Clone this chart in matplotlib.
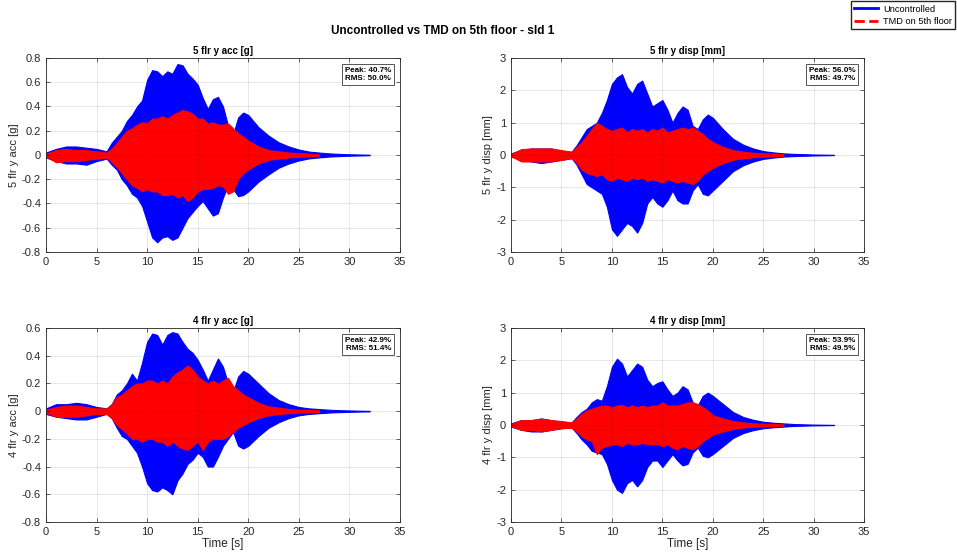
import numpy as np
import matplotlib.pyplot as plt
from matplotlib.lines import Line2D

t_unc = [0, 1, 2, 3, 4, 5, 6, 6.5, 7, 7.5, 8, 8.5, 9, 9.5, 10, 10.5, 11, 11.5, 12,
         12.5, 13, 13.5, 14, 14.5, 15, 15.5, 16, 16.5, 17, 17.5, 18, 18.5, 19, 19.5,
         20, 21, 22, 23, 24, 25, 26, 27, 28, 29, 30, 31, 32]
t_tmd = t_unc[:42]  # TMD response ends at ~27 s

# 5th floor acceleration [g]
acc5_unc_hi = [0.02, 0.05, 0.07, 0.07, 0.06, 0.05, 0.03, 0.1, 0.15, 0.2, 0.28, 0.33, 0.4, 0.45,
               0.62, 0.70, 0.69, 0.65, 0.69, 0.67, 0.75, 0.74, 0.67, 0.63, 0.58, 0.47, 0.38,
               0.46, 0.48, 0.40, 0.24, 0.17, 0.31, 0.35, 0.33, 0.23, 0.16, 0.105, 0.07, 0.045,
               0.028, 0.02, 0.013, 0.009, 0.006, 0.004, 0.002]
acc5_unc_lo = [-0.02, -0.05, -0.07, -0.07, -0.08, -0.05, -0.03, -0.08, -0.12, -0.2, -0.25,
               -0.32, -0.35, -0.42, -0.55, -0.68, -0.72, -0.68, -0.67, -0.70, -0.68, -0.6,
               -0.52, -0.47, -0.42, -0.38, -0.44, -0.5, -0.48, -0.35, -0.25, -0.28, -0.34,
               -0.33, -0.3, -0.22, -0.16, -0.105, -0.07, -0.045, -0.028, -0.02, -0.013,
               -0.009, -0.006, -0.004, -0.002]
acc5_tmd_hi = [0.01, 0.04, 0.05, 0.04, 0.04, 0.03, 0.02, 0.05, 0.1, 0.15, 0.2, 0.22, 0.25, 0.27,
               0.26, 0.3, 0.3, 0.32, 0.3, 0.33, 0.35, 0.37, 0.36, 0.34, 0.3, 0.3, 0.26, 0.27,
               0.25, 0.25, 0.26, 0.22, 0.18, 0.15, 0.12, 0.07, 0.04, 0.03, 0.02, 0.015, 0.01,
               0.005]
acc5_tmd_lo = [-0.01, -0.06, -0.05, -0.05, -0.04, -0.03, -0.02, -0.06, -0.1, -0.15, -0.2,
               -0.25, -0.27, -0.3, -0.28, -0.3, -0.3, -0.33, -0.33, -0.32, -0.35, -0.33,
               -0.38, -0.35, -0.3, -0.28, -0.28, -0.27, -0.25, -0.26, -0.32, -0.3, -0.2,
               -0.15, -0.12, -0.07, -0.04, -0.03, -0.02, -0.015, -0.01, -0.005]

# 5th floor displacement [mm]
disp5_unc_hi = [0.05, 0.15, 0.2, 0.2, 0.2, 0.12, 0.1, 0.3, 0.55, 0.8, 0.9, 1.0, 1.3, 1.7, 2.2,
                2.4, 2.5, 2.1, 1.9, 2.2, 2.3, 1.9, 1.5, 1.6, 1.7, 1.4, 1.0, 1.3, 1.5, 1.4, 0.9,
                0.8, 1.1, 1.25, 1.15, 0.8, 0.5, 0.32, 0.2, 0.12, 0.08, 0.05, 0.035, 0.025,
                0.015, 0.01, 0.005]
disp5_unc_lo = [-0.05, -0.15, -0.2, -0.25, -0.2, -0.15, -0.1, -0.3, -0.6, -0.9, -1.0, -1.1,
                -1.2, -1.6, -2.3, -2.5, -2.3, -2.1, -2.2, -2.4, -2.1, -1.5, -1.3, -1.5, -1.6,
                -1.4, -1.1, -1.4, -1.5, -1.5, -1.1, -0.9, -1.2, -1.25, -1.1, -0.8, -0.5,
                -0.32, -0.2, -0.12, -0.08, -0.05, -0.035, -0.025, -0.015, -0.01, -0.005]
disp5_tmd_hi = [0.03, 0.18, 0.2, 0.2, 0.2, 0.15, 0.1, 0.25, 0.4, 0.6, 0.8, 1.0, 0.9, 0.8, 0.75,
                0.8, 0.85, 0.7, 0.8, 0.75, 0.8, 0.7, 0.8, 0.75, 0.85, 0.7, 0.75, 0.8, 0.85,
                0.8, 0.85, 0.75, 0.65, 0.5, 0.4, 0.25, 0.15, 0.1, 0.07, 0.05, 0.04, 0.02]
disp5_tmd_lo = [-0.03, -0.2, -0.2, -0.2, -0.2, -0.15, -0.1, -0.25, -0.45, -0.55, -0.6, -0.65,
                -0.6, -0.75, -0.8, -0.7, -0.75, -0.8, -0.7, -0.75, -0.7, -0.8, -0.75, -0.8,
                -0.85, -0.75, -0.8, -0.85, -0.8, -0.85, -0.9, -0.8, -0.6, -0.5, -0.4, -0.25,
                -0.15, -0.1, -0.07, -0.05, -0.04, -0.02]

# 4th floor acceleration [g]
acc4_unc_hi = [0.02, 0.05, 0.05, 0.06, 0.05, 0.03, 0.02, 0.05, 0.12, 0.15, 0.2, 0.27, 0.22,
               0.35, 0.5, 0.56, 0.55, 0.48, 0.55, 0.57, 0.56, 0.5, 0.45, 0.42, 0.37, 0.3, 0.22,
               0.3, 0.38, 0.32, 0.2, 0.14, 0.25, 0.29, 0.27, 0.2, 0.13, 0.08, 0.05, 0.03, 0.02,
               0.015, 0.01, 0.007, 0.005, 0.003, 0.002]
acc4_unc_lo = [-0.02, -0.04, -0.05, -0.06, -0.06, -0.04, -0.02, -0.05, -0.12, -0.18, -0.2,
               -0.25, -0.3, -0.4, -0.52, -0.57, -0.58, -0.55, -0.57, -0.6, -0.5, -0.45, -0.38,
               -0.35, -0.3, -0.33, -0.4, -0.4, -0.33, -0.25, -0.2, -0.15, -0.25, -0.27, -0.25,
               -0.18, -0.12, -0.08, -0.05, -0.03, -0.02, -0.015, -0.01, -0.007, -0.005,
               -0.003, -0.002]
acc4_tmd_hi = [0.01, 0.03, 0.04, 0.04, 0.03, 0.02, 0.02, 0.05, 0.1, 0.12, 0.15, 0.18, 0.2, 0.2,
               0.22, 0.22, 0.2, 0.22, 0.2, 0.25, 0.28, 0.3, 0.33, 0.3, 0.25, 0.22, 0.2, 0.22,
               0.2, 0.22, 0.24, 0.18, 0.15, 0.12, 0.1, 0.06, 0.035, 0.025, 0.015, 0.01, 0.008,
               0.005]
acc4_tmd_lo = [-0.01, -0.04, -0.04, -0.04, -0.03, -0.02, -0.02, -0.05, -0.1, -0.13, -0.16,
               -0.2, -0.2, -0.22, -0.2, -0.2, -0.22, -0.22, -0.25, -0.22, -0.25, -0.27, -0.28,
               -0.25, -0.22, -0.28, -0.22, -0.2, -0.2, -0.2, -0.18, -0.15, -0.12, -0.1, -0.08,
               -0.05, -0.03, -0.02, -0.015, -0.01, -0.008, -0.005]

# 4th floor displacement [mm]
disp4_unc_hi = [0.05, 0.15, 0.15, 0.2, 0.15, 0.1, 0.08, 0.25, 0.4, 0.5, 0.7, 0.8, 0.75, 1.2,
                1.8, 2.05, 1.9, 1.5, 1.7, 1.9, 1.8, 1.4, 1.2, 1.3, 1.35, 1.1, 0.9, 1.0, 1.2,
                1.1, 0.7, 0.6, 0.9, 1.0, 0.9, 0.65, 0.4, 0.25, 0.16, 0.1, 0.07, 0.05, 0.03,
                0.02, 0.012, 0.008, 0.004]
disp4_unc_lo = [-0.05, -0.15, -0.2, -0.2, -0.15, -0.1, -0.08, -0.25, -0.45, -0.6, -0.8, -0.85,
                -0.9, -1.2, -1.7, -2.0, -2.1, -1.8, -1.7, -1.9, -1.7, -1.3, -1.1, -1.1, -1.3,
                -1.1, -0.9, -1.1, -1.25, -1.2, -0.85, -0.7, -0.95, -1.0, -0.9, -0.65, -0.4,
                -0.25, -0.16, -0.1, -0.07, -0.05, -0.03, -0.02, -0.012, -0.008, -0.004]
disp4_tmd_hi = [0.03, 0.15, 0.15, 0.2, 0.15, 0.12, 0.08, 0.2, 0.35, 0.45, 0.5, 0.55, 0.6, 0.6,
                0.55, 0.6, 0.62, 0.55, 0.6, 0.55, 0.6, 0.55, 0.6, 0.6, 0.7, 0.6, 0.6, 0.6,
                0.65, 0.7, 0.7, 0.65, 0.55, 0.45, 0.3, 0.2, 0.12, 0.08, 0.05, 0.04, 0.03, 0.02]
disp4_tmd_lo = [-0.03, -0.15, -0.15, -0.2, -0.15, -0.1, -0.08, -0.2, -0.35, -0.45, -0.5, -0.9,
                -0.7, -0.65, -0.6, -0.6, -0.65, -0.55, -0.6, -0.6, -0.55, -0.6, -0.6, -0.6,
                -0.65, -0.6, -0.7, -0.75, -0.65, -0.7, -0.75, -0.65, -0.5, -0.4, -0.3, -0.2,
                -0.12, -0.08, -0.05, -0.04, -0.03, -0.02]

titles = ["5 flr y acc [g]", "5 flr y disp [mm]", "4 flr y acc [g]", "4 flr y disp [mm]"]
peak_red = ["40.7%", "56.0%", "42.9%", "53.9%"]
rms_red = ["50.0%", "49.7%", "51.4%", "49.5%"]

plt.rcParams.update({
    "font.family": ["Liberation Sans", "DejaVu Sans"],
    "font.size": 7.5,
    "axes.edgecolor": "#262626",
    "xtick.color": "#262626",
    "ytick.color": "#262626",
    "axes.labelcolor": "#262626",
})

BLUE = "#0000ff"
RED = "#ff0000"


def tick_fmt(v, pos):
    if abs(v) < 1e-9:
        return "0"
    return f"{v:g}"


fig = plt.figure(figsize=(9.57, 5.55), dpi=100)
boxes = [
    [0.048, 0.546, 0.370, 0.3495],
    [0.534, 0.546, 0.369, 0.3495],
    [0.048, 0.0595, 0.370, 0.3495],
    [0.534, 0.0595, 0.369, 0.3495],
]
series = [
    (acc5_unc_lo, acc5_unc_hi, acc5_tmd_lo, acc5_tmd_hi),
    (disp5_unc_lo, disp5_unc_hi, disp5_tmd_lo, disp5_tmd_hi),
    (acc4_unc_lo, acc4_unc_hi, acc4_tmd_lo, acc4_tmd_hi),
    (disp4_unc_lo, disp4_unc_hi, disp4_tmd_lo, disp4_tmd_hi),
]
ylims = [(-0.8, 0.8), (-3, 3), (-0.8, 0.6), (-3, 3)]
ysteps = [0.2, 1, 0.2, 1]

for i, (box, (ulo, uhi, tlo, thi)) in enumerate(zip(boxes, series)):
    ax = fig.add_axes(box)
    ax.fill_between(t_unc, ulo, uhi, color=BLUE, linewidth=0.8, edgecolor=BLUE)
    ax.fill_between(t_tmd, tlo, thi, color=RED, linewidth=0.8, edgecolor=RED)

    ax.set_xlim(0, 35)
    ax.set_ylim(*ylims[i])
    ax.set_xticks(np.arange(0, 36, 5))
    lo, hi = ylims[i]
    ax.set_yticks(np.round(np.arange(lo, hi + 1e-9, ysteps[i]), 2))
    ax.yaxis.set_major_formatter(plt.FuncFormatter(tick_fmt))
    ax.grid(True, color="#262626", alpha=0.12, linewidth=0.6)
    ax.tick_params(direction="in", length=3, width=0.5, top=True, right=True, labelsize=8)
    for s in ax.spines.values():
        s.set_linewidth(0.6)
    ax.set_title(titles[i], fontsize=7, fontweight="bold", pad=3, color="black")
    ax.set_ylabel(titles[i], fontsize=8, labelpad=2)
    if i >= 2:
        ax.set_xlabel("Time [s]", fontsize=8.5, labelpad=1)
    ax.text(0.975, 0.955, f"Peak: {peak_red[i]}\nRMS: {rms_red[i]}", transform=ax.transAxes,
            ha="right", va="top", fontsize=5.8, fontweight="bold", multialignment="right",
            linespacing=1.3,
            bbox=dict(boxstyle="square,pad=0.35", facecolor="white", edgecolor="#555555",
                      linewidth=0.7))

fig.text(0.463, 0.944, "Uncontrolled vs TMD on 5th floor - sld 1", ha="center", va="center",
         fontsize=8.5, fontweight="bold")

handles = [Line2D([], [], color=BLUE, linewidth=2),
           Line2D([], [], color=RED, linewidth=2, linestyle="--")]
fig.legend(handles, ["Uncontrolled", "TMD on 5th floor"], loc="upper right",
           bbox_to_anchor=(0.999, 0.999), fontsize=6.7, frameon=True, fancybox=False,
           edgecolor="#262626", framealpha=1, borderpad=0.35, labelspacing=0.35,
           handlelength=2.6, handletextpad=0.5, borderaxespad=0.1)

fig.savefig("out.png", dpi=100)
